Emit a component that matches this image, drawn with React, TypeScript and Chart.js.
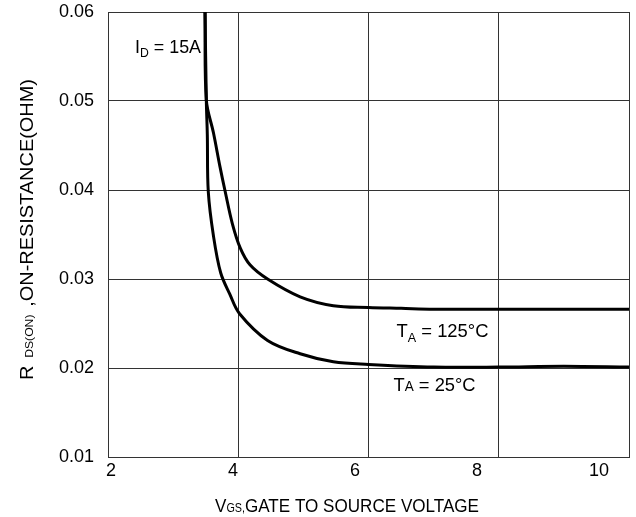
import React, { useEffect, useRef } from "react";
import { Chart, registerables } from "chart.js";

Chart.register(...registerables);

// ---- data ----
const xTicks = [2, 4, 6, 8, 10];
const yTicks = [0.01, 0.02, 0.03, 0.04, 0.05, 0.06];

const vgs125 = [3.49, 3.51, 3.62, 3.72, 3.8, 3.91, 4.03, 4.18, 4.45, 4.95, 5.46, 6.0, 6.5, 7.0, 8.0, 9.0, 10.0];
const rds125 = [0.06, 0.0501, 0.0464, 0.0426, 0.0398, 0.0362, 0.0335, 0.0316, 0.03, 0.028, 0.027, 0.0268, 0.0267, 0.0266, 0.0266, 0.0266, 0.0266];

const vgs25 = [3.49, 3.51, 3.525, 3.54, 3.62, 3.73, 3.87, 4.02, 4.45, 4.95, 5.46, 6.0, 7.0, 8.0, 9.0, 10.0];
const rds25 = [0.06, 0.05, 0.0462, 0.0398, 0.0348, 0.0307, 0.0283, 0.0261, 0.0231, 0.0216, 0.0207, 0.0204, 0.0201, 0.0201, 0.0202, 0.0201];

const FONT = "'Liberation Sans', Arial, Helvetica, sans-serif";

type Part = { t: string; size: number; dy?: number; gap?: number };

function drawParts(ctx: CanvasRenderingContext2D, parts: Part[], x: number, y: number, width: number) {
  let natural = 0;
  for (const p of parts) {
    ctx.font = `${p.size}px ${FONT}`;
    natural += (p.gap || 0) + ctx.measureText(p.t).width;
  }
  const sx = width / natural;
  ctx.save();
  ctx.translate(x, y);
  ctx.scale(sx, 1);
  ctx.fillStyle = "#000";
  ctx.textAlign = "left";
  ctx.textBaseline = "alphabetic";
  let cx = 0;
  for (const p of parts) {
    cx += p.gap || 0;
    ctx.font = `${p.size}px ${FONT}`;
    ctx.fillText(p.t, cx, p.dy || 0);
    cx += ctx.measureText(p.t).width;
  }
  ctx.restore();
}

const annotations: { parts: Part[]; x: number; y: number; width: number }[] = [
  { parts: [{ t: "I", size: 19 }, { t: "D", size: 13, dy: 4 }, { t: " = 15A", size: 19 }], x: 2.415, y: 0.0554, width: 66 },
  { parts: [{ t: "T", size: 19 }, { t: "A", size: 13, dy: 5 }, { t: " = 125°C", size: 19 }], x: 6.43, y: 0.02348, width: 92 },
  { parts: [{ t: "T", size: 19 }, { t: "A", size: 14 }, { t: " = 25°C", size: 19 }], x: 6.385, y: 0.01742, width: 82 },
];

const textPlugin = {
  id: "textPlugin",
  afterDraw(chart: any) {
    const { ctx, scales } = chart;
    const xs = scales.x;
    const ys = scales.y;
    for (const a of annotations) {
      drawParts(ctx, a.parts, xs.getPixelForValue(a.x), ys.getPixelForValue(a.y), a.width);
    }
    // x-axis title
    drawParts(
      ctx,
      [{ t: "V", size: 19 }, { t: "GS,", size: 12 }, { t: "GATE TO SOURCE VOLTAGE", size: 19 }],
      215,
      512,
      264
    );
    // y-axis title
    ctx.save();
    ctx.translate(33, 380);
    ctx.rotate(-Math.PI / 2);
    drawParts(
      ctx,
      [{ t: "R", size: 18 }, { t: "DS(ON)", size: 11, gap: 7 }, { t: ",ON-RESISTANCE(OHM)", size: 18, gap: 7 }],
      0,
      0,
      301
    );
    ctx.restore();
  },
};

export default function App() {
  const ref = useRef<HTMLCanvasElement | null>(null);
  useEffect(() => {
    if (!ref.current) return;
    const lineStyle = {
      borderColor: "#000",
      borderWidth: 3,
      pointRadius: 0,
      fill: false,
      tension: 0.35,
    };
    const chart = new Chart(ref.current, {
      type: "line",
      data: {
        datasets: [
          { ...lineStyle, label: "TA=125°C", data: vgs125.map((v, i) => ({ x: v, y: rds125[i] })) },
          { ...lineStyle, label: "TA=25°C", data: vgs25.map((v, i) => ({ x: v, y: rds25[i] })) },
        ],
      },
      options: {
        responsive: false,
        animation: false,
        events: [],
        layout: { padding: { top: 12, right: 7, left: 0, bottom: 0 } },
        plugins: { legend: { display: false }, tooltip: { enabled: false } },
        scales: {
          x: {
            type: "linear",
            min: 2,
            max: 10,
            afterBuildTicks: (s: any) => {
              s.ticks = xTicks.map((value) => ({ value }));
            },
            ticks: { display: false },
            grid: { color: "#333", lineWidth: 1, drawTicks: false },
            border: { color: "#333" },
            afterFit: (s: any) => {
              s.height = 0;
              s.paddingLeft = 0;
              s.paddingRight = 0;
            },
          },
          x2: {
            type: "linear",
            position: "bottom",
            min: 1.951,
            max: 10.49,
            afterBuildTicks: (s: any) => {
              s.ticks = xTicks.map((value) => ({ value }));
            },
            grid: { display: false, drawTicks: false },
            border: { display: false },
            ticks: {
              font: { family: FONT, size: 18 },
              color: "#000",
              padding: 3,
              maxRotation: 0,
              autoSkip: false,
            },
            afterFit: (s: any) => {
              s.height = 60;
              s.paddingLeft = 0;
              s.paddingRight = 0;
            },
          },
          y: {
            type: "linear",
            min: 0.01,
            max: 0.06,
            afterBuildTicks: (s: any) => {
              s.ticks = yTicks.map((value) => ({ value }));
            },
            ticks: {
              callback: (v: any) => Number(v).toFixed(2),
              font: { family: FONT, size: 18 },
              color: "#000",
              padding: 14,
            },
            grid: { color: "#333", lineWidth: 1, drawTicks: false },
            border: { color: "#333" },
            afterFit: (s: any) => {
              s.width = 108;
              s.paddingTop = 0;
              s.paddingBottom = 0;
            },
          },
        },
      },
      plugins: [textPlugin],
    });
    return () => chart.destroy();
  }, []);
  return (
    <div style={{ position: "absolute", left: 0, top: 0, width: 636, height: 517, background: "#fff" }}>
      <canvas ref={ref} width={636} height={517} style={{ display: "block" }} />
    </div>
  );
}
